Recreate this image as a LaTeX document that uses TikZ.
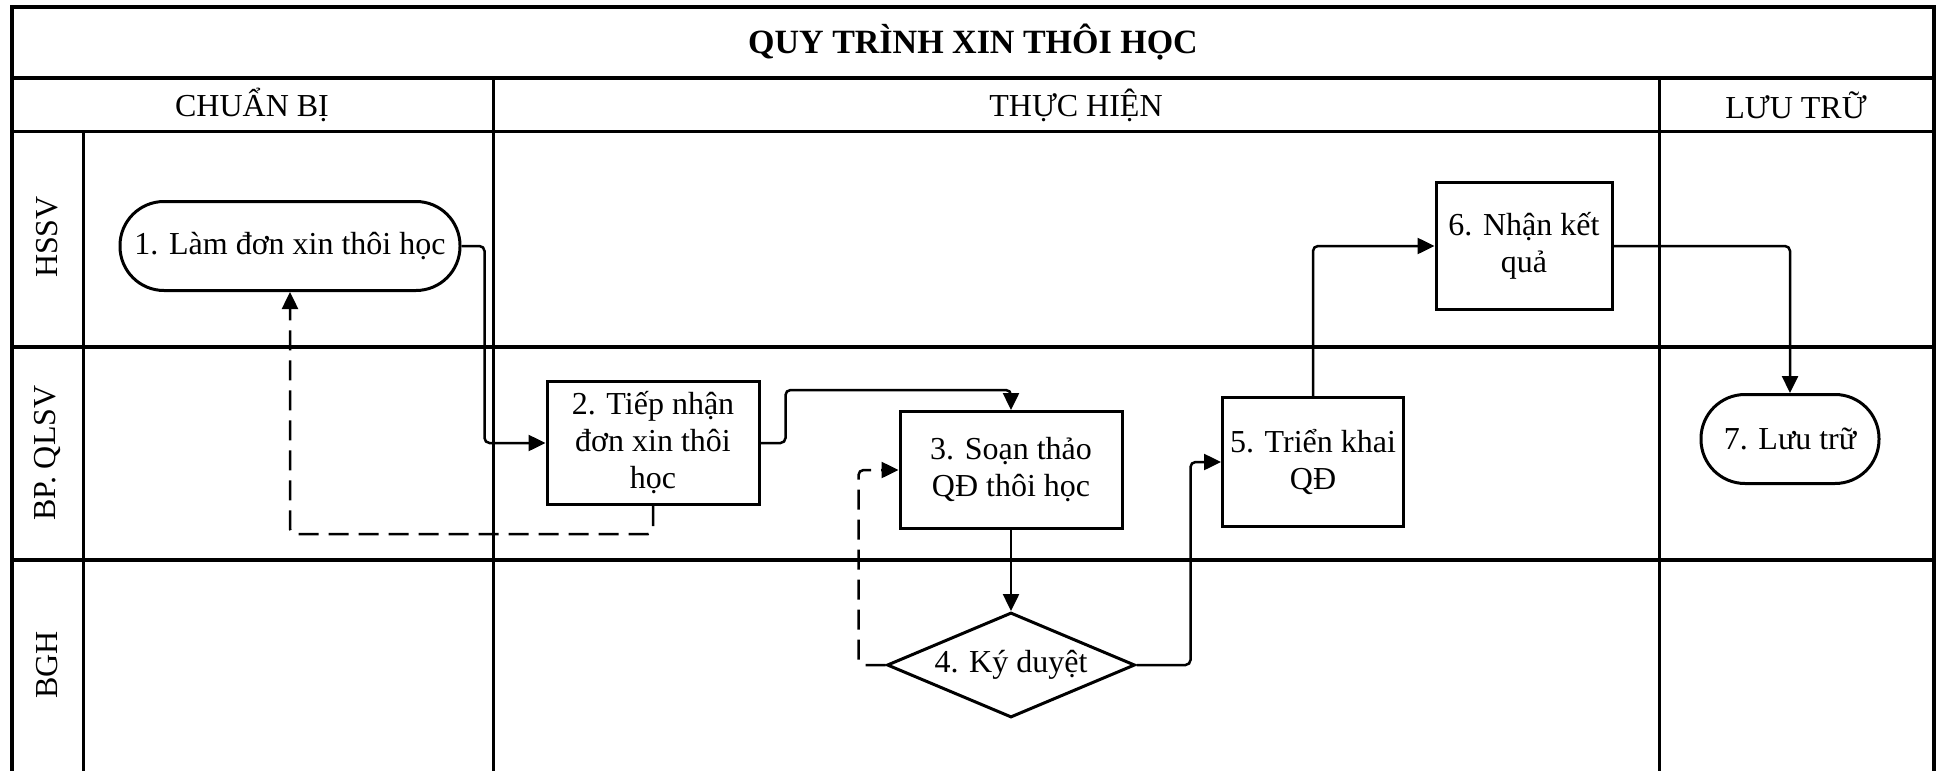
\documentclass[tikz,border=0pt]{standalone}
\usepackage{fontspec}
\setmainfont{Liberation Serif}
\usetikzlibrary{arrows.meta,shapes.geometric}

\begin{document}
\begin{tikzpicture}[x=1pt, y=-1pt,
    every node/.style={font=\fontsize{32}{37}\selectfont},
    box/.style={draw, line width=3, align=center, inner sep=2pt},
    term/.style={draw, line width=3, rounded corners=44, minimum height=89},
    decision/.style={draw, diamond, line width=3, aspect=2.36, inner sep=0pt, minimum width=248, minimum height=105},
    flow/.style={line width=2.5, rounded corners=5, -{Triangle[length=17pt, width=16pt]}},
    back/.style={flow, dash pattern=on 20pt off 10pt}]
      \useasboundingbox (0,0) rectangle (1941,771);
      % khung, pha va lan
      \draw[line width=3.5] (12,771) -- (12,7) -- (1934,7) -- (1934,771);
      \draw[line width=3.5] (12,78) -- (1934,78);
      \draw[line width=3] (12,131) -- (1934,131);
      \draw[line width=3.5] (12,347) -- (1934,347);
      \draw[line width=3.5] (12,560) -- (1934,560);
      \draw[line width=3] (83,131) -- (83,771);
      \draw[line width=3] (493,78) -- (493,771);
      \draw[line width=3] (1659,78) -- (1659,771);
      \node[font=\fontsize{34}{40}\selectfont\bfseries] (title) at (973,42) {QUY TRÌNH XIN THÔI HỌC};
      \node (prep) at (252,105) {CHUẨN BỊ};
      \node (exec) at (1076,105) {THỰC HIỆN};
      \node (store) at (1796,105) {LƯU TRỮ};
      \node[rotate=90] (hssv) at (47,237) {HSSV};
      \node[rotate=90] (qlsv) at (47,453) {BP. QLSV};
      \node[rotate=90] (bgh) at (47,665) {BGH};
      % cac buoc
      \node[term, minimum width=340] (s1) at (290,246) {1. Làm đơn xin thôi học};
      \node[box, minimum width=212, minimum height=123] (s2) at (653,443) {2. Tiếp nhận\\đơn xin thôi\\học};
      \node[box, minimum width=222, minimum height=117] (s3) at (1011,470) {3. Soạn thảo\\QĐ thôi học};
      \node[decision] (s4) at (1011,665) {4. Ký duyệt};
      \node[box, minimum width=181, minimum height=129] (s5) at (1313,462) {5. Triển khai\\QĐ};
      \node[box, minimum width=176, minimum height=127] (s6) at (1524,246) {6. Nhận kết\\quả};
      \node[term, minimum width=178] (s7) at (1790,439) {7. Lưu trữ};
      % luong
      \draw[flow] (s1.east) -- ++(23,0) |- (s2.west);
      \draw[flow] (s2.east) -- ++(25,0) -- ++(0,-53) -| (s3.north);
      \draw[back] (s2.south) -- ++(0,28) -| (s1.south);
      \draw[flow] (s3.south) -- (s4.north);
      \draw[back] (s4.west) -- ++(-27,0) |- (s3.west);
      \draw[flow] (s4.east) -- ++(54,0) |- (s5.west);
      \draw[flow] (s5.north) |- (s6.west);
      \draw[flow] (s6.east) -| (s7.north);
\end{tikzpicture}
\end{document}
